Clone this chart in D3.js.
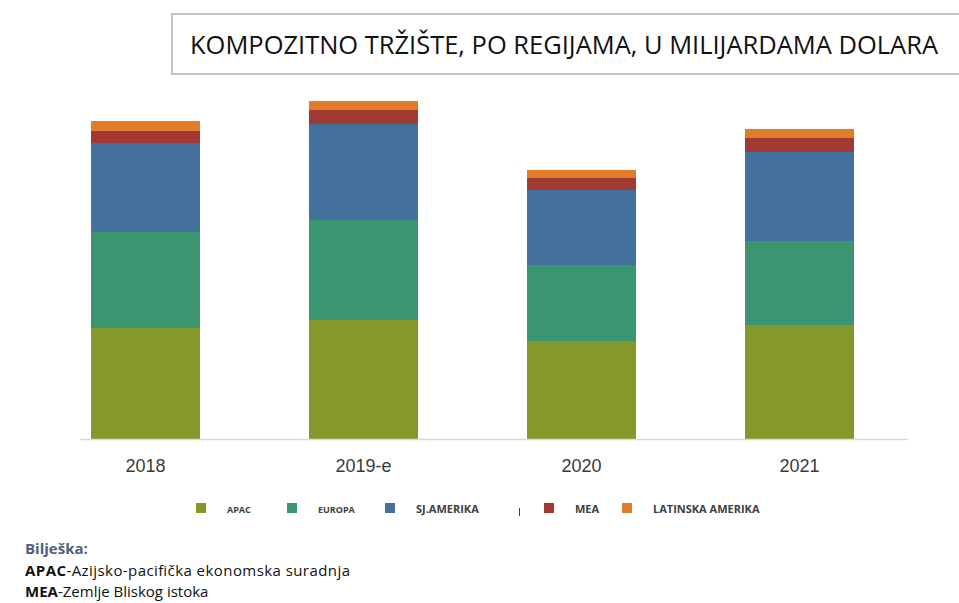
<!DOCTYPE html>
<html>
<head>
<meta charset="utf-8">
<script src="https://cdn.jsdelivr.net/npm/d3@7"></script>
<style>
  body { margin: 0; background: #fff; }
  svg { display: block; }
</style>
</head>
<body>
<svg id="chart"></svg>
<script>
// years on the x axis
var years = ["2018", "2019-e", "2020", "2021"];
// regions, bottom to top
var regions = ["APAC", "EUROPA", "SJ.AMERIKA", "MEA", "LATINSKA AMERIKA"];
// values per region (billions USD)
var apac = [11.1, 11.9, 9.8, 11.4];
var europa = [9.6, 10.0, 7.6, 8.4];
var sjAmerika = [8.9, 9.6, 7.5, 8.9];
var mea = [1.2, 1.4, 1.2, 1.4];
var latAmerika = [1.0, 0.9, 0.8, 0.9];

var colors = ["#85992b", "#3b9570", "#44709d", "#a23a32", "#e07c2a"];

var screen = {width: 959, height: 603};
var svg = d3.select("#chart")
    .attr("width", screen.width)
    .attr("height", screen.height);

// build rows for the stack
var series = [apac, europa, sjAmerika, mea, latAmerika];
var rows = years.map(function(y, i) {
    var row = {year: y};
    regions.forEach(function(r, j) { row[r] = series[j][i]; });
    return row;
});
var stacked = d3.stack().keys(regions)(rows);

var xScale = d3.scaleBand()
    .domain(years)
    .range([36.5, 908.5])
    .paddingInner(0.5)
    .paddingOuter(0.25);

var yScale = d3.scaleLinear()
    .domain([0, 34])
    .range([439, 99]);

// title box
svg.append("rect")
    .attr("x", 172).attr("y", 14)
    .attr("width", 800).attr("height", 60)
    .attr("fill", "#fff")
    .attr("stroke", "#c4c4c4")
    .attr("stroke-width", 2);
svg.append("text")
    .text("KOMPOZITNO TRŽIŠTE, PO REGIJAMA, U MILIJARDAMA DOLARA")
    .attr("x", 190).attr("y", 54)
    .attr("font-family", "Open Sans")
    .attr("font-size", 26)
    .attr("fill", "#111")
    .attr("textLength", 748)
    .attr("lengthAdjust", "spacingAndGlyphs");

// bars
var layers = svg.append("g").selectAll("g")
    .data(stacked)
    .enter()
    .append("g")
    .attr("fill", function(d, i) { return colors[i]; });

layers.selectAll("rect")
    .data(function(d) { return d; })
    .enter()
    .append("rect")
    .attr("x", function(d) { return xScale(d.data.year); })
    .attr("width", xScale.bandwidth())
    .attr("y", function(d) { return yScale(d[1]); })
    .attr("height", function(d) { return yScale(d[0]) - yScale(d[1]); });

// baseline
svg.append("line")
    .attr("x1", 80).attr("x2", 908)
    .attr("y1", yScale(0) + 0.5).attr("y2", yScale(0) + 0.5)
    .attr("stroke", "#d9d9d9")
    .attr("stroke-width", 1.5);

// x axis labels
var xAxis = d3.axisBottom(xScale).tickSize(0).tickPadding(20);
var axisG = svg.append("g")
    .attr("transform", "translate(0," + yScale(0) + ")")
    .call(xAxis);
axisG.select(".domain").remove();
axisG.selectAll("text")
    .attr("font-family", "Liberation Sans, Arial, sans-serif")
    .attr("font-size", 18)
    .attr("fill", "#3a3a3a");

// legend
var legendX = [196, 287, 385, 544, 622];
var legendSizes = [9, 9, 11, 11, 11];
var legend = svg.append("g");
regions.forEach(function(r, i) {
    legend.append("rect")
        .attr("x", legendX[i]).attr("y", 503)
        .attr("width", 10).attr("height", 10)
        .attr("fill", colors[i]);
    legend.append("text")
        .text(r)
        .attr("x", legendX[i] + 31).attr("y", 512.5)
        .attr("font-family", "Open Sans")
        .attr("font-weight", "bold")
        .attr("font-size", legendSizes[i])
        .attr("fill", "#404040");
});
legend.append("line")
    .attr("x1", 519.5).attr("x2", 519.5)
    .attr("y1", 508).attr("y2", 516)
    .attr("stroke", "#404040");

// note
var note = svg.append("g")
    .attr("font-family", "Open Sans")
    .attr("font-size", 15);
note.append("text")
    .text("Bilješka:")
    .attr("x", 25).attr("y", 554)
    .attr("font-weight", "bold")
    .attr("fill", "#4d5f7a");
var l1 = note.append("text").attr("x", 25).attr("y", 576).attr("fill", "#111")
    .attr("textLength", 325).attr("lengthAdjust", "spacing");
l1.append("tspan").text("APAC").attr("font-weight", "bold");
l1.append("tspan").text("-Azijsko-pacifička ekonomska suradnja");
var l2 = note.append("text").attr("x", 25).attr("y", 597).attr("fill", "#111");
l2.append("tspan").text("MEA").attr("font-weight", "bold");
l2.append("tspan").text("-Zemlje Bliskog istoka");
</script>
</body>
</html>
